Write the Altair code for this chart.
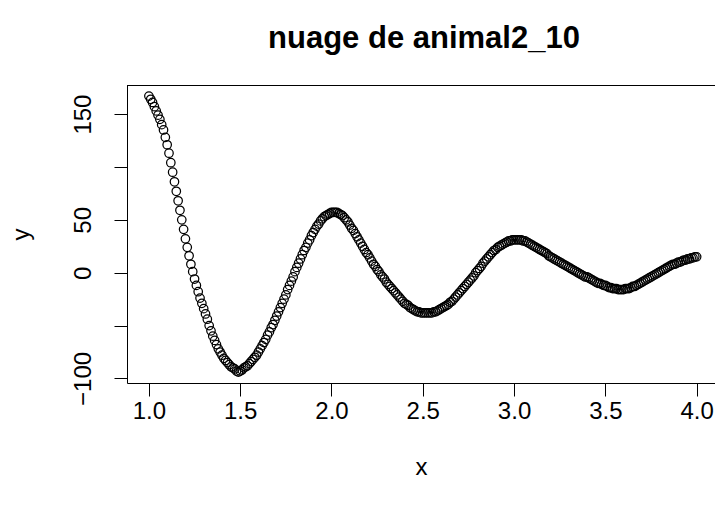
import altair as alt
import pandas as pd

# ---- data (one point every 0.01 on x) ----
x_vals = [
    1.00, 1.01, 1.02, 1.03, 1.04, 1.05, 1.06, 1.07, 1.08, 1.09,
    1.10, 1.11, 1.12, 1.13, 1.14, 1.15, 1.16, 1.17, 1.18, 1.19,
    1.20, 1.21, 1.22, 1.23, 1.24, 1.25, 1.26, 1.27, 1.28, 1.29,
    1.30, 1.31, 1.32, 1.33, 1.34, 1.35, 1.36, 1.37, 1.38, 1.39,
    1.40, 1.41, 1.42, 1.43, 1.44, 1.45, 1.46, 1.47, 1.48, 1.49,
    1.50, 1.51, 1.52, 1.53, 1.54, 1.55, 1.56, 1.57, 1.58, 1.59,
    1.60, 1.61, 1.62, 1.63, 1.64, 1.65, 1.66, 1.67, 1.68, 1.69,
    1.70, 1.71, 1.72, 1.73, 1.74, 1.75, 1.76, 1.77, 1.78, 1.79,
    1.80, 1.81, 1.82, 1.83, 1.84, 1.85, 1.86, 1.87, 1.88, 1.89,
    1.90, 1.91, 1.92, 1.93, 1.94, 1.95, 1.96, 1.97, 1.98, 1.99,
    2.00, 2.01, 2.02, 2.03, 2.04, 2.05, 2.06, 2.07, 2.08, 2.09,
    2.10, 2.11, 2.12, 2.13, 2.14, 2.15, 2.16, 2.17, 2.18, 2.19,
    2.20, 2.21, 2.22, 2.23, 2.24, 2.25, 2.26, 2.27, 2.28, 2.29,
    2.30, 2.31, 2.32, 2.33, 2.34, 2.35, 2.36, 2.37, 2.38, 2.39,
    2.40, 2.41, 2.42, 2.43, 2.44, 2.45, 2.46, 2.47, 2.48, 2.49,
    2.50, 2.51, 2.52, 2.53, 2.54, 2.55, 2.56, 2.57, 2.58, 2.59,
    2.60, 2.61, 2.62, 2.63, 2.64, 2.65, 2.66, 2.67, 2.68, 2.69,
    2.70, 2.71, 2.72, 2.73, 2.74, 2.75, 2.76, 2.77, 2.78, 2.79,
    2.80, 2.81, 2.82, 2.83, 2.84, 2.85, 2.86, 2.87, 2.88, 2.89,
    2.90, 2.91, 2.92, 2.93, 2.94, 2.95, 2.96, 2.97, 2.98, 2.99,
    3.00, 3.01, 3.02, 3.03, 3.04, 3.05, 3.06, 3.07, 3.08, 3.09,
    3.10, 3.11, 3.12, 3.13, 3.14, 3.15, 3.16, 3.17, 3.18, 3.19,
    3.20, 3.21, 3.22, 3.23, 3.24, 3.25, 3.26, 3.27, 3.28, 3.29,
    3.30, 3.31, 3.32, 3.33, 3.34, 3.35, 3.36, 3.37, 3.38, 3.39,
    3.40, 3.41, 3.42, 3.43, 3.44, 3.45, 3.46, 3.47, 3.48, 3.49,
    3.50, 3.51, 3.52, 3.53, 3.54, 3.55, 3.56, 3.57, 3.58, 3.59,
    3.60, 3.61, 3.62, 3.63, 3.64, 3.65, 3.66, 3.67, 3.68, 3.69,
    3.70, 3.71, 3.72, 3.73, 3.74, 3.75, 3.76, 3.77, 3.78, 3.79,
    3.80, 3.81, 3.82, 3.83, 3.84, 3.85, 3.86, 3.87, 3.88, 3.89,
    3.90, 3.91, 3.92, 3.93, 3.94, 3.95, 3.96, 3.97, 3.98, 3.99,
    4.00,
]

y_vals = [
    167, 164, 161, 157, 153, 149, 145, 140, 135, 128,
    121, 113, 104, 95, 86, 77, 68, 59, 50, 41,
    32, 24, 16, 8, 1, -6, -12, -18, -24, -29,
    -34, -39, -44, -50, -55, -60, -64, -68, -72, -75,
    -78, -81, -83, -85, -87, -89, -90, -91, -93, -94,
    -93, -92, -90, -89, -88, -86, -84, -82, -80, -78,
    -75, -72, -69, -66, -63, -59, -56, -52, -49, -45,
    -41, -37, -33, -29, -25, -21, -16, -12, -8, -4,
    1, 5, 9, 13, 17, 21, 24, 28, 31, 35,
    38, 41, 44, 46, 49, 51, 53, 54, 55, 56,
    57, 57, 57, 57, 56, 55, 54, 52, 50, 48,
    45, 42, 40, 37, 34, 31, 28, 25, 22, 19,
    17, 14, 11, 8, 6, 3, 1, -2, -4, -6,
    -9, -11, -13, -15, -17, -19, -21, -23, -25, -27,
    -29, -30, -31, -33, -34, -35, -36, -37, -37, -38,
    -38, -38, -38, -38, -38, -38, -37, -37, -36, -35,
    -34, -33, -32, -31, -30, -28, -27, -25, -23, -21,
    -19, -17, -15, -13, -11, -9, -7, -5, -3, 0,
    2, 4, 6, 9, 11, 13, 15, 17, 19, 21,
    22, 24, 25, 26, 27, 28, 29, 30, 30, 31,
    31, 31, 31, 31, 31, 30, 30, 29, 28, 27,
    26, 25, 24, 23, 22, 21, 20, 19, 18, 16,
    15, 14, 13, 12, 11, 10, 9, 8, 7, 6,
    5, 4, 3, 2, 1, 0, -1, -2, -3, -4,
    -4, -5, -6, -7, -8, -9, -10, -10, -11, -12,
    -12, -13, -14, -14, -15, -15, -15, -16, -16, -16,
    -16, -15, -15, -15, -14, -13, -13, -12, -11, -10,
    -9, -8, -7, -6, -5, -4, -3, -2, -1, 0,
    1, 2, 3, 4, 5, 6, 7, 8, 8, 9,
    10, 10, 11, 12, 12, 13, 13, 14, 14, 15,
    15,
]

title_text = "nuage de animal2_10"
x_title = "x"
y_title = "y"
x_ticks = [1.0, 1.5, 2.0, 2.5, 3.0, 3.5, 4.0]
y_ticks = [-100, -50, 0, 50, 100, 150]
x_domain = [0.88, 4.1006]
y_domain = [-104.3, 177.5]

df = pd.DataFrame({"x": x_vals, "y": y_vals})

W, H = 588, 298
FONT = "Liberation Sans"

points = alt.Chart(df).mark_point(
    shape="circle", filled=False, color="black", size=72, strokeWidth=1.25, opacity=1
).encode(
    x=alt.X(
        "x:Q",
        scale=alt.Scale(domain=x_domain, nice=False, zero=False),
        axis=alt.Axis(
            values=x_ticks, format=".1f", title=x_title, grid=False,
            tickSize=13, labelPadding=22, labelBaseline="alphabetic",
            labelFlush=False, labelOverlap=False,
            titleY=91, titleBaseline="alphabetic",
        ),
    ),
    y=alt.Y(
        "y:Q",
        scale=alt.Scale(domain=y_domain, nice=False, zero=False),
        axis=alt.Axis(
            values=y_ticks, grid=False, title=y_title,
            labelExpr="datum.value == -50 || datum.value == 100 ? '' : datum.label",
            labelAngle=270, labelAlign="center", labelBaseline="alphabetic",
            tickSize=13, labelPadding=24, labelFlush=False, labelOverlap=False,
            titleAngle=270, titleX=-99, titleY=H / 2, titleAlign="center",
            titleBaseline="alphabetic",
        ),
    ),
)

top_border = alt.Chart(pd.DataFrame({"k": [0]})).mark_rule(
    color="black", strokeWidth=1
).encode(x=alt.value(0), x2=alt.value(W), y=alt.value(0.5))

chart = alt.layer(points, top_border).properties(
    width=W,
    height=H,
    title=alt.TitleParams(
        text=title_text, font=FONT, fontSize=31, fontWeight="bold", color="black",
        anchor="middle", frame="group", baseline="alphabetic", offset=6, dx=3,
    ),
    padding={"left": 127, "top": 85, "right": 0, "bottom": 123},
    autosize=alt.AutoSizeParams(type="none"),
    background="white",
).configure_view(
    strokeWidth=0
).configure_axis(
    domainColor="black", domainWidth=1, tickColor="black", tickWidth=1,
    labelColor="black", labelFont=FONT, labelFontSize=24,
    titleColor="black", titleFont=FONT, titleFontSize=24, titleFontWeight="normal",
)

chart.save("out.html", embed_options={"renderer": "svg", "actions": False})
